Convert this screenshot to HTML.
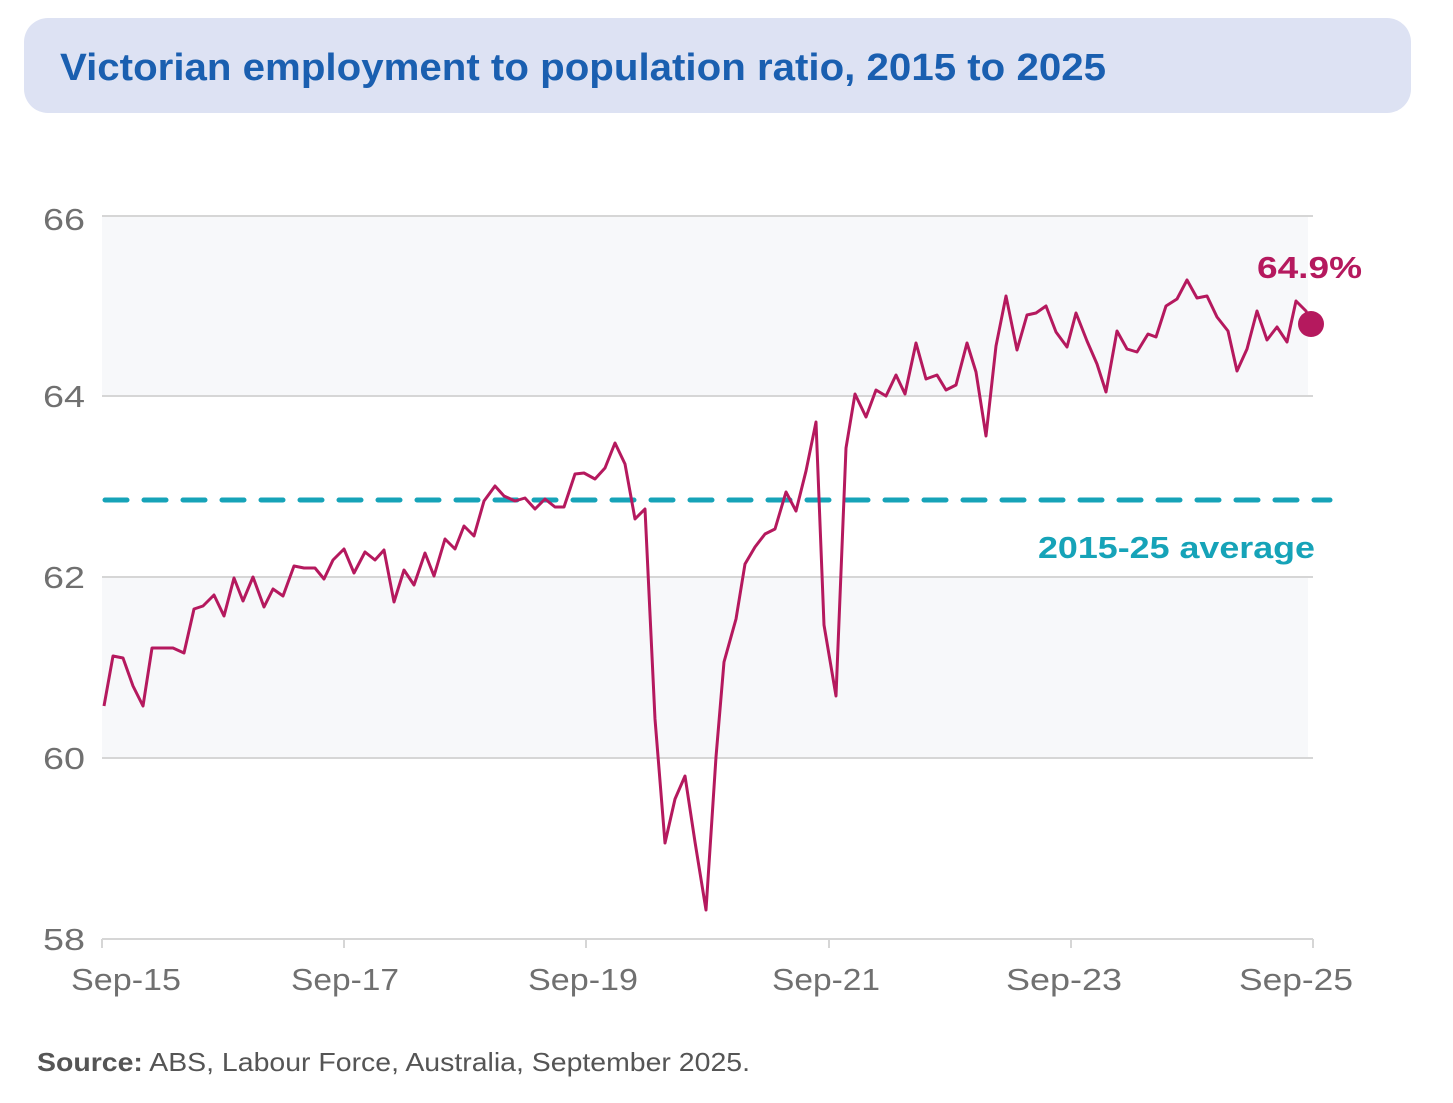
<!DOCTYPE html>
<html><head><meta charset="utf-8"><style>
body{margin:0;background:#fff;width:1453px;height:1103px;overflow:hidden;font-family:"Liberation Sans",sans-serif}
</style></head><body>
<svg width="1453" height="1103" xmlns="http://www.w3.org/2000/svg" style="position:absolute;left:0;top:0">
<rect x="24" y="18" width="1387" height="95" rx="24" fill="#dde2f3"/>
<text x="60" y="80" font-size="38" font-weight="bold" fill="#1a5fb0" textLength="1046" lengthAdjust="spacingAndGlyphs" font-family="Liberation Sans, sans-serif">Victorian employment to population ratio, 2015 to 2025</text>
<rect x="102" y="216" width="1206" height="180" fill="#f7f8fa"/>
<rect x="102" y="577" width="1206" height="181" fill="#f7f8fa"/>
<g stroke="#d6d6d6" stroke-width="2">
<line x1="102" y1="216" x2="1313" y2="216"/><line x1="102" y1="396" x2="1313" y2="396"/>
<line x1="102" y1="577" x2="1313" y2="577"/><line x1="102" y1="758" x2="1313" y2="758"/>
<line x1="102" y1="939" x2="1313" y2="939"/>
<line x1="102" y1="939" x2="102" y2="948"/><line x1="344" y1="939" x2="344" y2="948"/>
<line x1="586" y1="939" x2="586" y2="948"/><line x1="829" y1="939" x2="829" y2="948"/>
<line x1="1071" y1="939" x2="1071" y2="948"/><line x1="1313" y1="939" x2="1313" y2="948"/>
</g>
<g font-size="31" fill="#707070" font-family="Liberation Sans, sans-serif">
<text x="43" y="230" textLength="42" lengthAdjust="spacingAndGlyphs">66</text>
<text x="43" y="407" textLength="42" lengthAdjust="spacingAndGlyphs">64</text>
<text x="43" y="588" textLength="42" lengthAdjust="spacingAndGlyphs">62</text>
<text x="43" y="769" textLength="42" lengthAdjust="spacingAndGlyphs">60</text>
<text x="43" y="950" textLength="42" lengthAdjust="spacingAndGlyphs">58</text>
</g>
<g font-size="31" fill="#707070" font-family="Liberation Sans, sans-serif">
<text x="71" y="990" textLength="110" lengthAdjust="spacingAndGlyphs">Sep-15</text>
<text x="291" y="990" textLength="108" lengthAdjust="spacingAndGlyphs">Sep-17</text>
<text x="528" y="990" textLength="110" lengthAdjust="spacingAndGlyphs">Sep-19</text>
<text x="772" y="990" textLength="108" lengthAdjust="spacingAndGlyphs">Sep-21</text>
<text x="1006" y="990" textLength="116" lengthAdjust="spacingAndGlyphs">Sep-23</text>
<text x="1239" y="990" textLength="114" lengthAdjust="spacingAndGlyphs">Sep-25</text>
</g>
<line x1="105" y1="500" x2="1330" y2="500" stroke="#16a3b8" stroke-width="5" stroke-dasharray="22 17" stroke-linecap="round"/>
<text x="1038" y="558" font-size="31" font-weight="bold" fill="#16a3b8" textLength="277" lengthAdjust="spacingAndGlyphs" font-family="Liberation Sans, sans-serif">2015-25 average</text>
<polyline fill="none" stroke="#b5195e" stroke-width="3" stroke-linejoin="round" points="104,706 113,656 123,658 133,686 143,706 152,648 173,648 184,653 194,609 203,606 214,595 224,616 234,578 243,601 253,577 264,607 273,589 283,596 294,566 304,568 315,568 324,579 333,560 344,549 354,573 365,552 375,560 384,550 394,602 404,570 414,585 425,553 434,576 445,539 455,549 464,526 474,536 484,501 495,486 504,496 515,501 525,498 535,509 545,499 555,507 564,507 575,474 584,473 595,479 605,468 615,443 625,464 635,519 645,509 655,719 665,843 675,799 685,776 695,842 706,910 716,757 724,662 736,619 745,564 755,547 765,534 775,529 786,492 796,511 806,471 816,422 824,625 836,696 846,448 855,394 866,417 876,390 886,396 896,375 905,394 916,343 926,379 937,375 946,390 956,385 967,343 976,372 986,436 996,346 1006,296 1017,350 1027,315 1036,313 1046,306 1056,332 1067,347 1076,313 1087,341 1097,364 1106,392 1117,331 1127,349 1137,352 1148,334 1156,337 1166,306 1177,299 1187,280 1197,298 1207,296 1217,317 1228,331 1237,371 1247,349 1257,311 1267,340 1277,327 1287,342 1296,301 1306,311 1311,324"/>
<circle cx="1311" cy="324" r="13" fill="#b5195e"/>
<text x="1257" y="278" font-size="31" font-weight="bold" fill="#b5195e" textLength="105" lengthAdjust="spacingAndGlyphs" font-family="Liberation Sans, sans-serif">64.9%</text>
<text x="37" y="1071" font-size="26" fill="#555" textLength="713" lengthAdjust="spacingAndGlyphs" font-family="Liberation Sans, sans-serif"><tspan font-weight="bold">Source:</tspan> ABS, Labour Force, Australia, September 2025.</text>
</svg>
</body></html>
